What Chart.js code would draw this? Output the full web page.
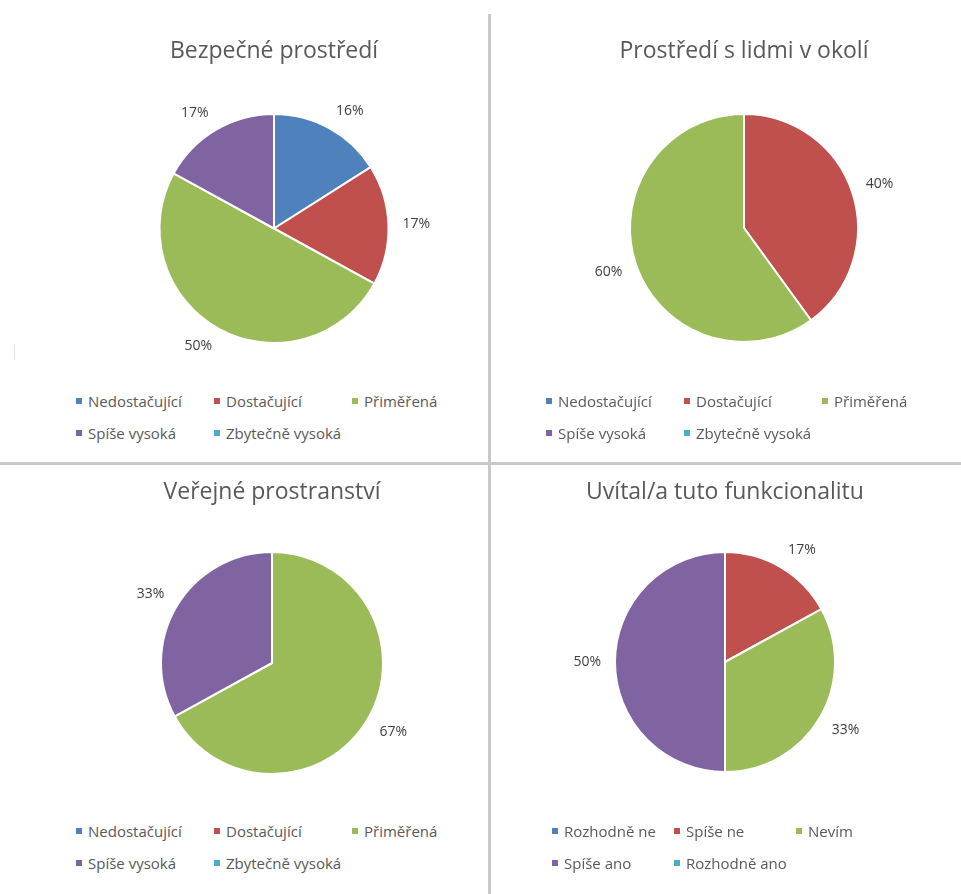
<!DOCTYPE html>
<html>
<head>
<meta charset="utf-8">
<script src="https://cdn.jsdelivr.net/npm/chart.js@4.4.1/dist/chart.umd.min.js"></script>
<style>
  html, body { margin: 0; padding: 0; background: #fff; }
  body { width: 961px; height: 894px; position: relative; overflow: hidden; font-family: "Open Sans", sans-serif; }
  canvas { position: absolute; }
  .legend { position: absolute; display: grid; row-gap: 11px; font-size: 15px; color: #595959; }
  .legend span { display: flex; align-items: center; white-space: nowrap; height: 21px; }
  .legend i { display: inline-block; width: 6px; height: 6px; margin-right: 6px; }
  .rule { position: absolute; background: #c9c9c9; z-index: 5; }
</style>
</head>
<body>
<div class="rule" style="left:488px; top:14px; width:3px; height:880px;"></div>
<div class="rule" style="left:0; top:462px; width:961px; height:3px;"></div>
<div class="rule" style="left:14px; top:345px; width:1px; height:15px; background:#e2e2e2;"></div>

<canvas id="c1"></canvas>
<canvas id="c2"></canvas>
<canvas id="c3"></canvas>
<canvas id="c4"></canvas>

<script>
// categories
var levelLabels = ['Nedostačující', 'Dostačující', 'Přiměřená', 'Spíše vysoká', 'Zbytečně vysoká'];
var agreeLabels = ['Rozhodně ne', 'Spíše ne', 'Nevím', 'Spíše ano', 'Rozhodně ano'];

// titles
var titles = ['Bezpečné prostředí', 'Prostředí s lidmi v okolí', 'Veřejné prostranství', 'Uvítal/a tuto funkcionalitu'];

// values (percent)
var safeEnv = [16, 17, 50, 17, 0];
var peopleEnv = [0, 40, 60, 0, 0];
var publicSpace = [0, 0, 67, 33, 0];
var welcomeFeature = [0, 17, 33, 50, 0];

var colors = ['#4F81BD', '#C0504D', '#9BBB59', '#8064A2', '#4BACC6'];

// where each pie sits on the page
var layout = [
  { cx: 273.5, cy: 228.5, r: 115.5, ty: 51, lx: 76, ly: 390, colW: 138 },
  { cx: 744, cy: 228, r: 115, ty: 51, lx: 546, ly: 390, colW: 138 },
  { cx: 272, cy: 663, r: 112, ty: 492, lx: 76, ly: 820, colW: 138 },
  { cx: 725, cy: 662, r: 111, ty: 492, lx: 552, ly: 820, colW: 122 }
];

function clamp1(v) { return Math.max(-1, Math.min(1, v)); }

// percentage labels outside the slices, roughly like Excel's "outside end"
var outsideLabels = {
  id: 'outsideLabels',
  afterDatasetsDraw: function(chart) {
    var ctx = chart.ctx;
    var ds = chart.data.datasets[0];
    var total = ds.data.reduce(function(a, b) { return a + b; }, 0);
    ctx.save();
    ctx.font = '14px "Open Sans"';
    ctx.fillStyle = '#404040';
    ctx.textAlign = 'center';
    ctx.textBaseline = 'middle';
    chart.getDatasetMeta(0).data.forEach(function(arc, i) {
      var v = ds.data[i];
      if (!v) return;
      var p = arc.getProps(['x', 'y', 'startAngle', 'endAngle', 'outerRadius'], true);
      var mid = (p.startAngle + p.endAngle) / 2;
      var text = Math.round(v / total * 100) + '%';
      var hw = ctx.measureText(text).width / 2, hh = 5;
      var d = p.outerRadius + 14;
      var x = p.x + Math.cos(mid) * d + hw * clamp1(Math.cos(mid) * 3);
      var y = p.y + Math.sin(mid) * d + hh * clamp1(Math.sin(mid) * 3);
      ctx.fillText(text, x, y);
    });
    ctx.restore();
  }
};

function makePie(id, title, labels, values, L) {
  var W = 460;
  var top = L.ty - 40;
  var titleFont = 23, lh = titleFont * 1.2;
  var padTop = 40 - lh / 2;
  var padBottom = (L.cy - L.r) - (top + padTop + lh);
  var H = Math.round((L.cy + L.r) - top + 40);

  var el = document.getElementById(id);
  el.width = W;
  el.height = H;
  el.style.left = (L.cx - W / 2) + 'px';
  el.style.top = top + 'px';

  new Chart(el.getContext('2d'), {
    type: 'pie',
    data: {
      labels: labels,
      datasets: [{
        data: values,
        backgroundColor: colors,
        borderColor: '#ffffff',
        borderWidth: 2
      }]
    },
    options: {
      responsive: false,
      animation: false,
      layout: { padding: { top: 0, bottom: 40, left: 0, right: 0 } },
      plugins: {
        legend: { display: false },
        tooltip: { enabled: false },
        title: {
          display: true,
          text: title,
          color: '#595959',
          font: { family: '"Open Sans"', size: titleFont, weight: 'normal' },
          padding: { top: padTop, bottom: padBottom }
        }
      }
    },
    plugins: [outsideLabels]
  });

  // legend built from the same categories
  var lg = document.createElement('div');
  lg.className = 'legend';
  lg.style.left = L.lx + 'px';
  lg.style.top = L.ly + 'px';
  lg.style.gridTemplateColumns = 'repeat(3, ' + L.colW + 'px)';
  labels.forEach(function(name, i) {
    var s = document.createElement('span');
    var b = document.createElement('i');
    b.style.background = colors[i];
    s.appendChild(b);
    s.appendChild(document.createTextNode(name));
    lg.appendChild(s);
  });
  document.body.appendChild(lg);
}

makePie('c1', titles[0], levelLabels, safeEnv, layout[0]);
makePie('c2', titles[1], levelLabels, peopleEnv, layout[1]);
makePie('c3', titles[2], levelLabels, publicSpace, layout[2]);
makePie('c4', titles[3], agreeLabels, welcomeFeature, layout[3]);
</script>
</body>
</html>
